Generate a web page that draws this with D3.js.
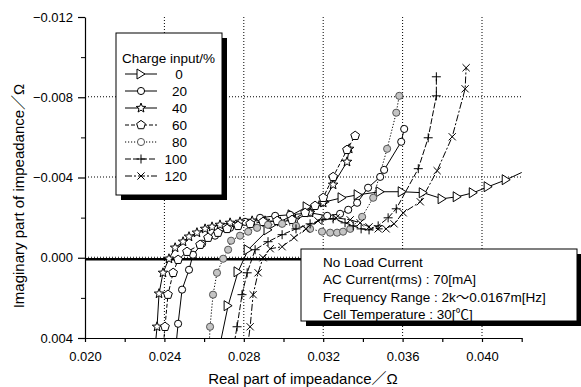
<!DOCTYPE html>
<html>
<head>
<meta charset="utf-8">
<script src="https://cdn.jsdelivr.net/npm/d3@7"></script>
<style>
    body { margin: 0; background: #fff; }
    svg { font-family: "Liberation Sans", Arial, "Noto Sans CJK JP", sans-serif; }
</style>
</head>
<body>
<svg id="nyquist-chart"></svg>
<script>
/*--------------------------------------------------------------------------------
----- NYQUIST PLOT (impedance of the cell for several charge inputs)
--------------------------------------------------------------------------------*/

// Charge inputs (legend labels) of the series
const charge_inputs = ["0", "20", "40", "60", "80", "100", "120"];

// Real part of impedance for each series (ohm)
const real_0 = [0.02680, 0.02721, 0.02771, 0.02822, 0.02922, 0.03043, 0.03119, 0.03210, 0.03295, 0.03376, 0.03487, 0.03598, 0.03704, 0.03799, 0.03875, 0.03956, 0.04031, 0.04122, 0.04293];
const real_20 = [0.02454, 0.02469, 0.02489, 0.02524, 0.02544, 0.02590, 0.02655, 0.02731, 0.02806, 0.02882, 0.02958, 0.03033, 0.03134, 0.03220, 0.03285, 0.03326, 0.03371, 0.03426, 0.03487, 0.03507, 0.03593, 0.03608];
const real_40 = [0.02353, 0.02363, 0.02373, 0.02393, 0.02423, 0.02454, 0.02494, 0.02524, 0.02564, 0.02605, 0.02640, 0.02680, 0.02731, 0.02781, 0.02842, 0.02907, 0.02983, 0.03058, 0.03134, 0.03200, 0.03250, 0.03320, 0.03331];
const real_60 = [0.02393, 0.02403, 0.02418, 0.02444, 0.02469, 0.02514, 0.02580, 0.02620, 0.02670, 0.02716, 0.02771, 0.02832, 0.02897, 0.02968, 0.03043, 0.03109, 0.03159, 0.03200, 0.03250, 0.03320, 0.03361];
const real_80 = [0.02625, 0.02630, 0.02645, 0.02665, 0.02696, 0.02721, 0.02736, 0.02781, 0.02822, 0.02867, 0.02922, 0.02993, 0.03063, 0.03134, 0.03194, 0.03235, 0.03270, 0.03300, 0.03336, 0.03396, 0.03452, 0.03522, 0.03568, 0.03583];
const real_100 = [0.02746, 0.02766, 0.02791, 0.02817, 0.02857, 0.02922, 0.02993, 0.03063, 0.03134, 0.03194, 0.03250, 0.03310, 0.03351, 0.03391, 0.03431, 0.03477, 0.03527, 0.03568, 0.03679, 0.03729, 0.03770, 0.03770];
const real_120 = [0.02817, 0.02832, 0.02847, 0.02872, 0.02897, 0.02933, 0.02993, 0.03053, 0.03114, 0.03174, 0.03265, 0.03336, 0.03386, 0.03431, 0.03477, 0.03517, 0.03557, 0.03603, 0.03689, 0.03774, 0.03850, 0.03915, 0.03920];

// Imaginary part of impedance for each series (ohm)
const imag_0 = [0.00433, 0.00239, 0.00070, -0.00040, -0.00139, -0.00214, -0.00254, -0.00279, -0.00299, -0.00314, -0.00329, -0.00329, -0.00324, -0.00294, -0.00304, -0.00324, -0.00354, -0.00389, -0.00468];
const imag_20 = [0.00483, 0.00329, 0.00159, 0.00060, -0.00015, -0.00070, -0.00110, -0.00149, -0.00179, -0.00199, -0.00209, -0.00214, -0.00224, -0.00209, -0.00219, -0.00239, -0.00274, -0.00349, -0.00403, -0.00438, -0.00578, -0.00642];
const imag_40 = [0.00448, 0.00344, 0.00179, 0.00075, 0.00005, -0.00050, -0.00080, -0.00105, -0.00125, -0.00144, -0.00154, -0.00164, -0.00174, -0.00179, -0.00184, -0.00184, -0.00179, -0.00189, -0.00224, -0.00274, -0.00364, -0.00478, -0.00543];
const imag_60 = [0.00458, 0.00344, 0.00184, 0.00075, 0.00010, -0.00030, -0.00065, -0.00100, -0.00125, -0.00144, -0.00159, -0.00169, -0.00179, -0.00184, -0.00189, -0.00224, -0.00259, -0.00299, -0.00403, -0.00538, -0.00608];
const imag_80 = [0.00458, 0.00344, 0.00184, 0.00075, 0.00005, -0.00040, -0.00085, -0.00110, -0.00130, -0.00149, -0.00164, -0.00169, -0.00159, -0.00144, -0.00130, -0.00125, -0.00125, -0.00130, -0.00144, -0.00204, -0.00299, -0.00543, -0.00723, -0.00807];
const imag_100 = [0.00458, 0.00344, 0.00184, 0.00075, -0.00040, -0.00080, -0.00115, -0.00144, -0.00169, -0.00189, -0.00194, -0.00174, -0.00159, -0.00144, -0.00139, -0.00159, -0.00199, -0.00244, -0.00444, -0.00598, -0.00807, -0.00902];
const imag_120 = [0.00458, 0.00344, 0.00184, 0.00075, 0.00000, -0.00045, -0.00055, -0.00100, -0.00144, -0.00184, -0.00199, -0.00189, -0.00174, -0.00154, -0.00144, -0.00144, -0.00169, -0.00224, -0.00279, -0.00434, -0.00603, -0.00842, -0.00947];

// Axis ticks and their labels
const x_major_ticks = [0.020, 0.024, 0.028, 0.032, 0.036, 0.040];
const x_major_labels = ["0.020", "0.024", "0.028", "0.032", "0.036", "0.040"];
const x_minor_ticks = [0.022, 0.026, 0.030, 0.034, 0.038, 0.042];
const y_major_ticks = [-0.012, -0.008, -0.004, 0.000, 0.004];
const y_major_labels = ["\u22120.012", "\u22120.008", "\u22120.004", "0.000", "0.004"];
const y_minor_ticks = [-0.010, -0.006, -0.002, 0.002];

// Texts of the annotation box
const note_lines = ["No Load Current", "AC Current(rms) : 70[mA]", "Frequency Range : 2k\u301c0.0167m[Hz]", "Cell Temperature : 30[\u2103]"];

// Build the series list (data + drawing style) from the arrays above
const series_reals = [real_0, real_20, real_40, real_60, real_80, real_100, real_120];
const series_imags = [imag_0, imag_20, imag_40, imag_60, imag_80, imag_100, imag_120];
const series_markers = ["triangle", "circle", "star", "pentagon", "circle", "plus", "times"];
const series_dashes = [null, null, null, "4,2", "1.2,1.8", "6,2", "7,2,2,2"];
const series_fills = ["#fff", "#fff", "#fff", "#fff", "#c4c4c4", "none", "none"];
const series_strokes = ["#000", "#000", "#000", "#000", "#555", "#000", "#000"];
const nyquist_series = charge_inputs.map((label, i) => ({
    label: label,
    points: series_reals[i].map((re, j) => ({ x: re, y: series_imags[i][j] })),
    marker: series_markers[i],
    dash: series_dashes[i],
    fill: series_fills[i],
    stroke: series_strokes[i]
}));

// Function returning the svg path of a marker
function marker_path(type) {
    if (type === "triangle") return "M-4,-5L4,0L-4,5Z";
    if (type === "circle") return d3.symbol(d3.symbolCircle, 40)();
    if (type === "plus") return "M-4.5,0H4.5M0,-4.5V4.5";
    if (type === "times") return "M-3.6,-3.6L3.6,3.6M-3.6,3.6L3.6,-3.6";
    // Star and pentagon are built from their corners
    const corners = [];
    const count = type === "star" ? 10 : 5;
    for (let k = 0; k < count; k++) {
        const angle = -Math.PI / 2 + k * 2 * Math.PI / count;
        const radius = type === "star" ? (k % 2 === 0 ? 5 : 2.1) : 4.6;
        corners.push([radius * Math.cos(angle), radius * Math.sin(angle)]);
    }
    return "M" + corners.map(c => c[0].toFixed(2) + "," + c[1].toFixed(2)).join("L") + "Z";
}

// Configure and adjust the dimensions of the chart
const nyquist_width = 581, nyquist_height = 387;
const nyquist_margins = { top: 17, right: 59.3, bottom: 49, left: 85 };
const nyquist_chart_width = nyquist_width - nyquist_margins.left - nyquist_margins.right;
const nyquist_chart_height = nyquist_height - nyquist_margins.top - nyquist_margins.bottom;

// Create the scales (the imaginary axis shows negative values at the top)
const x_scale = d3.scaleLinear()
    .domain([0.020, 0.042])
    .range([0, nyquist_chart_width]);
const y_scale = d3.scaleLinear()
    .domain([-0.012, 0.004])
    .range([0, nyquist_chart_height]);

// Create the chart container
const nyquist_svg = d3.select("#nyquist-chart")
    .attr("width", nyquist_width)
    .attr("height", nyquist_height);
const chart_g = nyquist_svg.append("g")
    .attr("transform", `translate(${nyquist_margins.left},${nyquist_margins.top})`);

// Clip path so the lines stop at the plot area
chart_g.append("clipPath")
    .attr("id", "plot-clip")
    .append("rect")
    .attr("width", nyquist_chart_width)
    .attr("height", nyquist_chart_height);

// Dotted grid lines
chart_g.selectAll(".v-grid")
    .data(x_major_ticks.slice(1))
    .enter()
    .append("line")
    .attr("x1", d => x_scale(d)).attr("x2", d => x_scale(d))
    .attr("y1", 0).attr("y2", nyquist_chart_height)
    .attr("stroke", "#000").attr("stroke-width", 1)
    .attr("stroke-dasharray", "1,2");
chart_g.selectAll(".h-grid")
    .data([-0.008, -0.004, 0.000])
    .enter()
    .append("line")
    .attr("x1", 0).attr("x2", nyquist_chart_width)
    .attr("y1", d => y_scale(d) - 0.5).attr("y2", d => y_scale(d) - 0.5)
    .attr("stroke", "#000").attr("stroke-width", 1)
    .attr("stroke-dasharray", "1,2");

// Thick zero line
chart_g.append("line")
    .attr("x1", 0).attr("x2", nyquist_chart_width + 60)
    .attr("y1", y_scale(0) + 1.5).attr("y2", y_scale(0) + 1.5)
    .attr("stroke", "#000").attr("stroke-width", 2.5);

// X axis with major (labelled) and minor ticks
chart_g.append("g")
    .attr("transform", `translate(0,${nyquist_chart_height})`)
    .call(d3.axisBottom(x_scale)
        .tickValues(x_major_ticks.concat(x_minor_ticks))
        .tickFormat(d => {
            const idx = x_major_ticks.indexOf(d);
            return idx >= 0 ? x_major_labels[idx] : "";
        })
        .tickSize(4).tickSizeOuter(0).tickPadding(10));

// Y axis with major (labelled) and minor ticks
const y_axis_g = chart_g.append("g")
    .call(d3.axisLeft(y_scale)
        .tickValues(y_major_ticks)
        .tickFormat((d, i) => y_major_labels[i])
        .tickSize(7).tickSizeOuter(0).tickPadding(5));
y_axis_g.selectAll(".minor")
    .data(y_minor_ticks)
    .enter()
    .append("line")
    .attr("x1", -4).attr("x2", 0)
    .attr("y1", d => y_scale(d) + 0.5).attr("y2", d => y_scale(d) + 0.5)
    .attr("stroke", "#000");

// Style both axes
chart_g.selectAll(".domain, .tick line").attr("stroke", "#000").attr("stroke-width", 1.2);
chart_g.selectAll(".tick text").attr("font-size", 13).attr("fill", "#000")
    .attr("font-family", "Liberation Sans, Arial, sans-serif");

// Draw every series line and its markers
const line_gen = d3.line().x(d => x_scale(d.x)).y(d => y_scale(d.y));
const data_g = chart_g.append("g").attr("clip-path", "url(#plot-clip)");
nyquist_series.forEach(s => {
    data_g.append("path")
        .datum(s.points)
        .attr("d", line_gen)
        .attr("fill", "none")
        .attr("stroke", "#000")
        .attr("stroke-width", 1)
        .attr("stroke-dasharray", s.dash);
});
nyquist_series.forEach(s => {
    data_g.selectAll(null)
        .data(s.points)
        .enter()
        .append("path")
        .attr("transform", d => `translate(${x_scale(d.x)},${y_scale(d.y)})`)
        .attr("d", marker_path(s.marker))
        .attr("fill", s.fill)
        .attr("stroke", s.stroke)
        .attr("stroke-width", 1);
});

// Axis titles
nyquist_svg.append("text")
    .attr("x", 303).attr("y", 384)
    .attr("text-anchor", "middle")
    .attr("font-size", 15)
    .text("Real part of impeadance\uff0f\u03a9");
nyquist_svg.append("text")
    .attr("transform", "translate(24,196) rotate(-90)")
    .attr("text-anchor", "middle")
    .attr("font-size", 15)
    .text("Imaginary part of impeadance\uff0f\u03a9");

// Legend box with its shadow
const legend_g = nyquist_svg.append("g").attr("transform", "translate(116,33)");
legend_g.append("rect").attr("x", 5).attr("y", 5).attr("width", 106).attr("height", 162).attr("fill", "#000");
legend_g.append("rect").attr("width", 106).attr("height", 162).attr("fill", "#fff").attr("stroke", "#000");
legend_g.append("text").attr("x", 6).attr("y", 30).attr("font-size", 13.5).text("Charge input/%");
nyquist_series.forEach((s, i) => {
    const row_y = 41 + i * 17;
    legend_g.append("line")
        .attr("x1", 9).attr("x2", 41).attr("y1", row_y).attr("y2", row_y)
        .attr("stroke", "#000").attr("stroke-dasharray", s.dash);
    legend_g.append("path")
        .attr("transform", `translate(25,${row_y})`)
        .attr("d", marker_path(s.marker))
        .attr("fill", s.fill === "none" ? "none" : "#fff")
        .attr("stroke", s.stroke);
    legend_g.append("text")
        .attr("x", 71).attr("y", row_y + 5)
        .attr("text-anchor", i === 0 ? "middle" : "end")
        .attr("dx", i === 0 ? -8 : 0)
        .attr("font-size", 13.5)
        .text(s.label);
});

// Annotation box with its shadow
const note_g = nyquist_svg.append("g").attr("transform", "translate(301,249)");
note_g.append("rect").attr("x", 5).attr("y", 5).attr("width", 276).attr("height", 72).attr("fill", "#000");
note_g.append("rect").attr("width", 276).attr("height", 72).attr("fill", "#fff").attr("stroke", "#000");
note_g.selectAll("text")
    .data(note_lines)
    .enter()
    .append("text")
    .attr("x", 22)
    .attr("y", (d, i) => 18 + i * 17.3)
    .attr("font-size", 13.5)
    .text(d => d);
</script>
</body>
</html>
